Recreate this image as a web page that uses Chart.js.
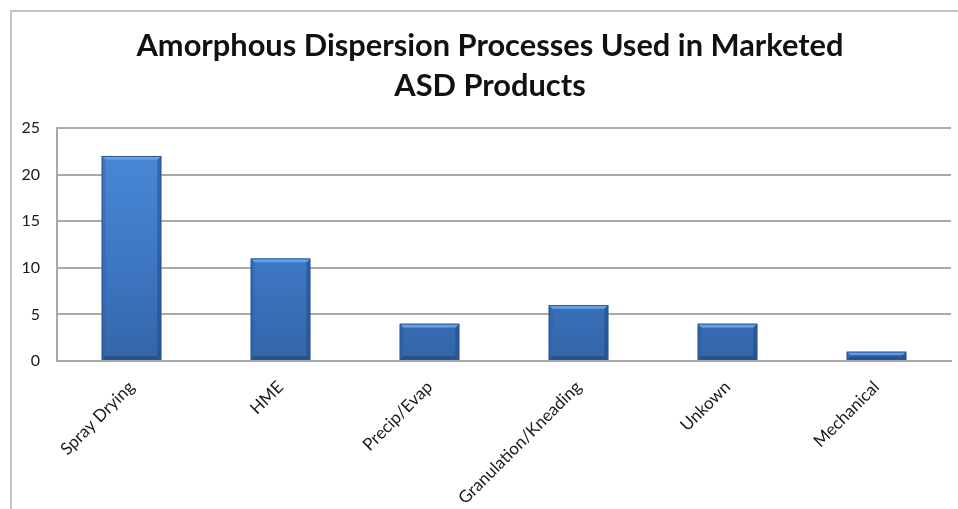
<!DOCTYPE html>
<html>
<head>
<meta charset="utf-8">
<script src="https://cdn.jsdelivr.net/npm/chart.js@4/dist/chart.umd.min.js"></script>
<style>
  html, body { margin: 0; padding: 0; background: #ffffff; }
  #wrap { position: relative; width: 958px; height: 509px; }
  canvas { display: block; }
</style>
</head>
<body>
<div id="wrap"><canvas id="chart" width="958" height="509"></canvas></div>
<script>
// Chart text and values
const titleLines = ['Amorphous Dispersion Processes Used in Marketed', 'ASD Products'];
const categories = ['Spray Drying', 'HME', 'Precip/Evap', 'Granulation/Kneading', 'Unkown', 'Mechanical'];
const productCounts = [22, 11, 4, 6, 4, 1];
const yTicks = [0, 5, 10, 15, 20, 25];

const FONT = 'Lato, "Open Sans", sans-serif';

// Light frame along the top and left edges, plus the two-line heading above the plot
const framePlugin = {
  id: 'frame',
  beforeDraw(chart) {
    const ctx = chart.ctx;
    ctx.save();
    ctx.strokeStyle = '#c4c4c4';
    ctx.lineWidth = 2;
    ctx.beginPath();
    ctx.moveTo(11, chart.height);
    ctx.lineTo(11, 11);
    ctx.lineTo(chart.width, 11);
    ctx.stroke();
    ctx.restore();
  },
  afterDraw(chart) {
    const ctx = chart.ctx;
    ctx.save();
    ctx.fillStyle = '#111111';
    ctx.font = 'bold 30.8px ' + FONT;
    ctx.textAlign = 'center';
    ctx.textBaseline = 'middle';
    titleLines.forEach((line, i) => ctx.fillText(line, 490, 46 + i * 40));
    ctx.restore();
  }
};

// Bevelled, shaded look for each bar, drawn over the bars the library laid out
const bevelPlugin = {
  id: 'bevel',
  afterDatasetsDraw(chart) {
    const ctx = chart.ctx;
    const meta = chart.getDatasetMeta(0);
    meta.data.forEach((bar) => {
      const { x, y, base, width } = bar.getProps(['x', 'y', 'base', 'width'], true);
      const l = x - width / 2, r = x + width / 2;
      const h = base - y;
      const b = Math.min(4, h / 2.5);
      ctx.save();
      // top chamfer
      const tg = ctx.createLinearGradient(0, y, 0, y + b);
      tg.addColorStop(0, '#7ab2ec');
      tg.addColorStop(1, '#5294e0');
      ctx.fillStyle = tg;
      ctx.beginPath();
      ctx.moveTo(l, y);
      ctx.lineTo(r, y);
      ctx.lineTo(r - b, y + b);
      ctx.lineTo(l + b, y + b);
      ctx.closePath();
      ctx.fill();
      // left side
      ctx.fillStyle = 'rgba(40, 90, 160, 0.3)';
      ctx.beginPath();
      ctx.moveTo(l, y);
      ctx.lineTo(l + b, y + b);
      ctx.lineTo(l + b, base - b);
      ctx.lineTo(l, base);
      ctx.closePath();
      ctx.fill();
      // right side
      ctx.fillStyle = 'rgba(25, 60, 115, 0.4)';
      ctx.beginPath();
      ctx.moveTo(r, y);
      ctx.lineTo(r - b, y + b);
      ctx.lineTo(r - b, base - b);
      ctx.lineTo(r, base);
      ctx.closePath();
      ctx.fill();
      // bottom edge
      ctx.fillStyle = 'rgba(25, 55, 105, 0.45)';
      ctx.beginPath();
      ctx.moveTo(l, base);
      ctx.lineTo(l + b, base - b);
      ctx.lineTo(r - b, base - b);
      ctx.lineTo(r, base);
      ctx.closePath();
      ctx.fill();
      // outline
      ctx.strokeStyle = '#2b568f';
      ctx.lineWidth = 1;
      ctx.strokeRect(l + 0.5, y + 0.5, width - 1, h - 1);
      ctx.restore();
    });
  }
};

function barGradient(context) {
  const chart = context.chart;
  const area = chart.chartArea;
  if (!area) return '#3f7ccb';
  const el = context.element;
  const top = el && isFinite(el.y) ? el.y : area.top;
  const bottom = el && isFinite(el.base) ? el.base : area.bottom;
  const g = chart.ctx.createLinearGradient(0, top, 0, Math.max(bottom, top + 1));
  g.addColorStop(0, '#4b8bd9');
  g.addColorStop(0.5, '#3f7ac6');
  g.addColorStop(1, '#3366aa');
  return g;
}

new Chart(document.getElementById('chart'), {
  type: 'bar',
  data: {
    labels: categories,
    datasets: [{
      label: 'Products',
      data: productCounts,
      backgroundColor: barGradient,
      borderWidth: 0,
      barPercentage: 0.4,
      categoryPercentage: 1.0
    }]
  },
  plugins: [framePlugin, bevelPlugin],
  options: {
    responsive: false,
    animation: false,
    layout: { padding: { left: 0, right: 7, top: 128, bottom: 0 } },
    plugins: {
      legend: { display: false },
      tooltip: { enabled: false },
      title: { display: false }
    },
    scales: {
      x: {
        grid: { display: false, drawTicks: false },
        border: { display: true, color: '#a8a8a8', width: 2 },
        ticks: {
          color: '#1a1a1a',
          font: { family: FONT, size: 17 },
          minRotation: 45,
          maxRotation: 45,
          padding: 16,
          autoSkip: false
        },
        afterFit(scale) { scale.height = 148; }
      },
      y: {
        min: 0,
        max: 25,
        afterBuildTicks(scale) { scale.ticks = yTicks.map(v => ({ value: v })); },
        grid: { color: '#aaaaaa', lineWidth: 2, drawTicks: false },
        border: { display: true, color: '#a8a8a8', width: 2 },
        ticks: {
          color: '#1a1a1a',
          font: { family: FONT, size: 16 },
          padding: 17
        },
        afterFit(scale) { scale.width = 57; }
      }
    }
  }
});
</script>
</body>
</html>
